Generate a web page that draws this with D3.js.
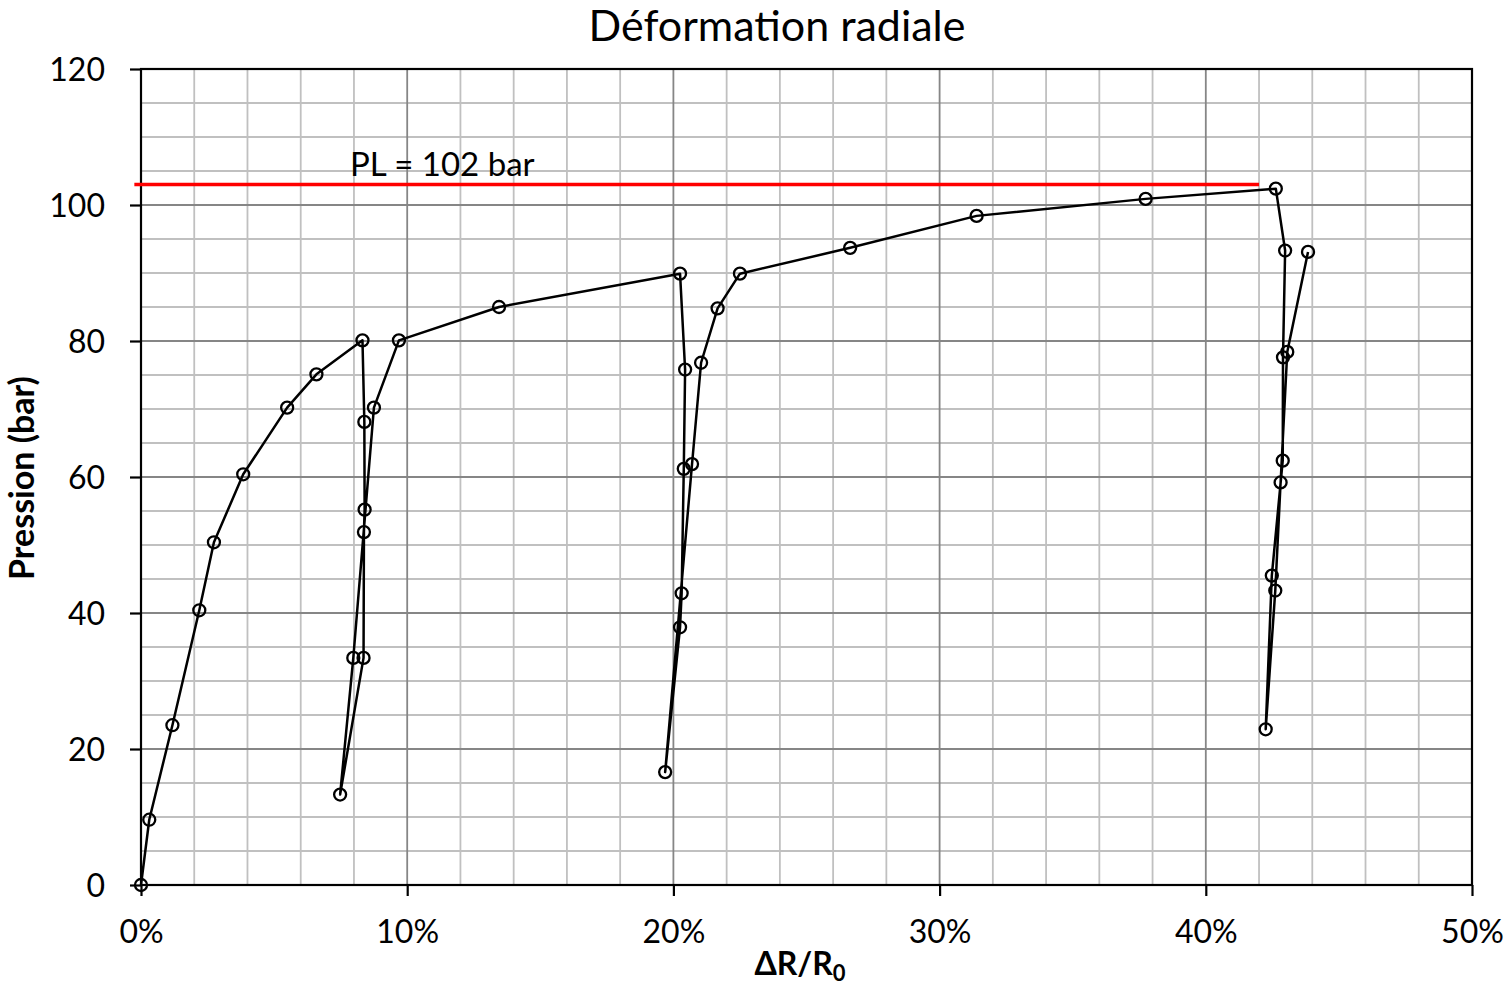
<!DOCTYPE html>
<html>
<head>
<meta charset="utf-8">
<script src="https://cdn.jsdelivr.net/npm/d3@7"></script>
<style>
  body { margin: 0; background: #fff; }
  text { font-family: Lato, "Open Sans", sans-serif; fill: #000; }
</style>
</head>
<body>
<div id="chart"></div>
<script>
// radial strain (%) and pressure (bar), in the order the test was run
var strain = [0, 0.31, 1.18, 2.19, 2.74, 3.84, 5.49, 6.59, 8.32,
  8.39, 8.40, 8.375, 8.36, 7.48, 7.975, 8.75, 9.69,
  13.45, 20.25, 20.44, 20.39, 20.31, 20.25, 19.69, 20.7, 21.04, 21.66, 22.5,
  26.64, 31.39, 37.74, 42.63,
  42.98, 42.9, 42.89, 42.48, 42.25, 42.61, 42.81, 43.06, 43.84];
var pressure = [0, 9.6, 23.5, 40.4, 50.4, 60.4, 70.2, 75.1, 80.1,
  68.1, 55.2, 51.9, 33.4, 13.3, 33.4, 70.2, 80.1,
  85.0, 89.9, 75.8, 61.2, 42.9, 37.9, 16.6, 61.9, 76.8, 84.8, 89.9,
  93.7, 98.4, 100.9, 102.4,
  93.3, 77.6, 62.4, 45.5, 22.9, 43.3, 59.2, 78.4, 93.1];

// limit pressure line
var plLevel = 103;
var plStart = -0.25;
var plEnd = 42;
var plLabel = "PL = 102 bar";

var xTicks = [0, 10, 20, 30, 40, 50];
var yTicks = [0, 20, 40, 60, 80, 100, 120];

var width = 1507;
var height = 986;
var plotLeft = 141, plotRight = 1472, plotTop = 69, plotBottom = 885;

var svg = d3.select("#chart")
  .append("svg")
  .attr("width", width)
  .attr("height", height);

var data = strain.map(function(d, i) {
  return { x: d, y: pressure[i] };
});

var xScale = d3.scaleLinear().domain([0, 50]).range([plotLeft, plotRight]);
var yScale = d3.scaleLinear().domain([0, 120]).range([plotBottom, plotTop]);

// grid - minor then major
var grid = svg.append("g");
grid.selectAll(".vminor")
  .data(d3.range(2, 50, 2).filter(function(d) { return d % 10 != 0; }))
  .enter().append("line")
  .attr("x1", function(d) { return xScale(d); })
  .attr("x2", function(d) { return xScale(d); })
  .attr("y1", plotTop).attr("y2", plotBottom)
  .attr("stroke", "#c0c0c0").attr("stroke-width", 1.8);
grid.selectAll(".hminor")
  .data(d3.range(5, 120, 5).filter(function(d) { return d % 20 != 0; }))
  .enter().append("line")
  .attr("y1", function(d) { return yScale(d); })
  .attr("y2", function(d) { return yScale(d); })
  .attr("x1", plotLeft).attr("x2", plotRight)
  .attr("stroke", "#c0c0c0").attr("stroke-width", 1.8);
grid.selectAll(".vmajor")
  .data([10, 20, 30, 40])
  .enter().append("line")
  .attr("x1", function(d) { return xScale(d); })
  .attr("x2", function(d) { return xScale(d); })
  .attr("y1", plotTop).attr("y2", plotBottom)
  .attr("stroke", "#868686").attr("stroke-width", 1.8);
grid.selectAll(".hmajor")
  .data([20, 40, 60, 80, 100])
  .enter().append("line")
  .attr("y1", function(d) { return yScale(d); })
  .attr("y2", function(d) { return yScale(d); })
  .attr("x1", plotLeft).attr("x2", plotRight)
  .attr("stroke", "#868686").attr("stroke-width", 1.8);

// frame
svg.append("rect")
  .attr("x", plotLeft).attr("y", plotTop)
  .attr("width", plotRight - plotLeft).attr("height", plotBottom - plotTop)
  .attr("fill", "none").attr("stroke", "#000").attr("stroke-width", 2.2);

// axes
var xAxis = d3.axisBottom(xScale)
  .tickValues(xTicks)
  .tickSize(11)
  .tickPadding(24)
  .tickFormat(function(d) { return d + "%"; });
var yAxis = d3.axisLeft(yScale)
  .tickValues(yTicks)
  .tickSize(11)
  .tickPadding(25);

var gx = svg.append("g")
  .attr("transform", "translate(0," + plotBottom + ")")
  .call(xAxis);
var gy = svg.append("g")
  .attr("transform", "translate(" + plotLeft + ",0)")
  .call(yAxis);

[gx, gy].forEach(function(g) {
  g.select(".domain").remove();
  g.selectAll("line").attr("stroke", "#000").attr("stroke-width", 2.2);
  g.selectAll("text")
    .style("font-family", "Lato, sans-serif")
    .style("font-size", "32px")
    .attr("fill", "#000");
});
gy.selectAll("text").attr("dy", "0.36em");

// PL line
svg.append("line")
  .attr("x1", xScale(plStart)).attr("x2", xScale(plEnd))
  .attr("y1", yScale(plLevel)).attr("y2", yScale(plLevel))
  .attr("stroke", "#ff0000").attr("stroke-width", 3.5);
svg.append("text")
  .attr("x", 350)
  .attr("y", yScale(plLevel) - 9)
  .style("font-size", "33px")
  .text(plLabel);

// data
var line = d3.line()
  .x(function(d) { return xScale(d.x); })
  .y(function(d) { return yScale(d.y); });

svg.append("path")
  .datum(data)
  .attr("d", line)
  .attr("fill", "none")
  .attr("stroke", "#000")
  .attr("stroke-width", 2.5)
  .attr("stroke-linejoin", "round");

svg.selectAll(".pt")
  .data(data)
  .enter().append("circle")
  .attr("cx", function(d) { return xScale(d.x); })
  .attr("cy", function(d) { return yScale(d.y); })
  .attr("r", 6)
  .attr("fill", "none")
  .attr("stroke", "#000")
  .attr("stroke-width", 2.3);

// titles
svg.append("text")
  .attr("x", 777).attr("y", 41)
  .attr("text-anchor", "middle")
  .style("font-size", "43px")
  .text("Déformation radiale");

svg.append("text")
  .attr("transform", "translate(34,478)rotate(-90)")
  .attr("text-anchor", "middle")
  .style("font-size", "34px")
  .style("font-weight", "bold")
  .text("Pression (bar)");

var xt = svg.append("text")
  .attr("x", 800).attr("y", 975)
  .attr("text-anchor", "middle")
  .style("font-size", "32px")
  .style("font-weight", "bold");
xt.append("tspan").text("ΔR/R");
xt.append("tspan").attr("dy", 6).style("font-size", "22px").text("0");
</script>
</body>
</html>
